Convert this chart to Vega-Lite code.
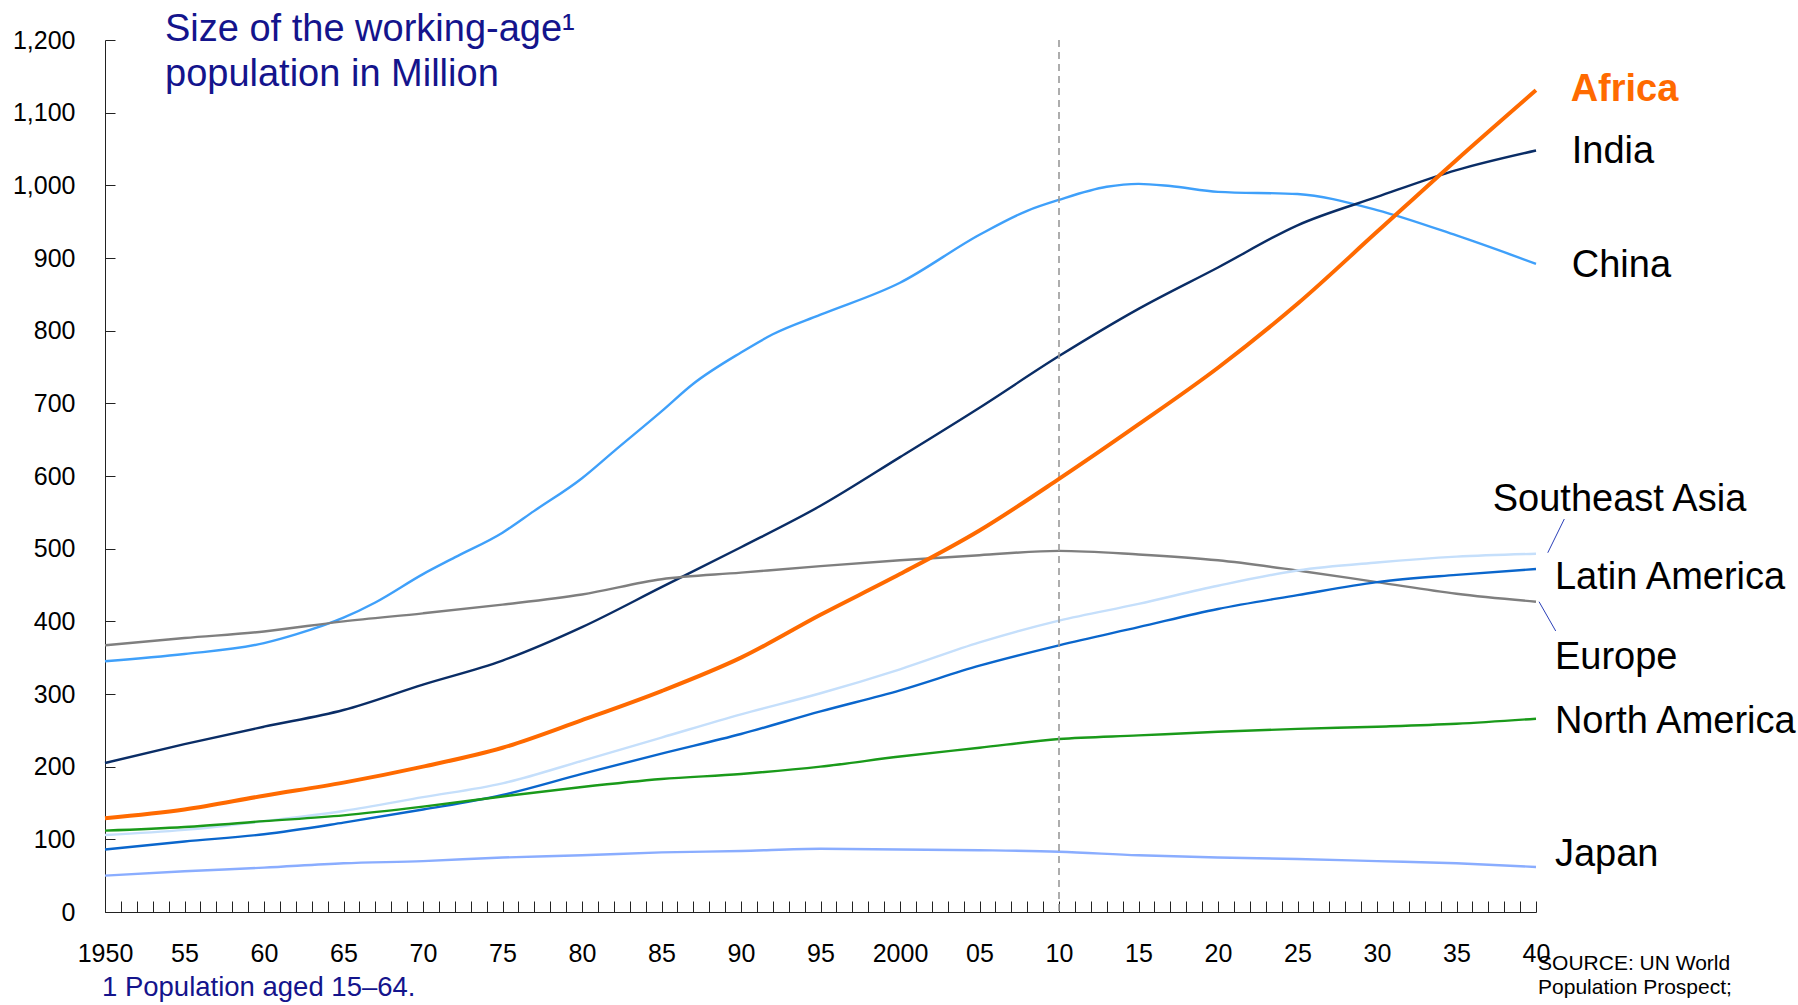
{
  "$schema": "https://vega.github.io/schema/vega-lite/v6.json",
  "width": 1431,
  "height": 872,
  "autosize": {"type": "none"},
  "padding": {"left": 105, "top": 40, "right": 262, "bottom": 93},
  "background": "white",
  "config": {
    "view": {"stroke": null},
    "font": "Liberation Sans",
    "axis": {"grid": false, "labelFont": "Liberation Sans", "labelColor": "#000000", "domainColor": "#222222", "tickColor": "#222222", "domainWidth": 1, "tickWidth": 1, "titlePadding": 0}
  },
  "title": {
    "text": ["Size of the working-age¹", "population in Million"],
    "anchor": "start",
    "frame": "group",
    "orient": "top",
    "dx": 60,
    "dy": 66,
    "offset": 0,
    "fontSize": 38,
    "fontWeight": "normal",
    "font": "Liberation Sans",
    "color": "#14148c",
    "lineHeight": 45
  },
  "datasets": {
    "series": [
      {"region": "China", "year": 1950, "value": 345},
      {"region": "China", "year": 1955, "value": 355},
      {"region": "China", "year": 1960, "value": 370},
      {"region": "China", "year": 1962, "value": 382},
      {"region": "China", "year": 1965, "value": 405},
      {"region": "China", "year": 1967, "value": 426},
      {"region": "China", "year": 1970, "value": 465},
      {"region": "China", "year": 1972, "value": 488},
      {"region": "China", "year": 1975, "value": 522},
      {"region": "China", "year": 1977, "value": 552},
      {"region": "China", "year": 1980, "value": 597},
      {"region": "China", "year": 1982, "value": 634},
      {"region": "China", "year": 1985, "value": 689},
      {"region": "China", "year": 1987, "value": 727},
      {"region": "China", "year": 1990, "value": 770},
      {"region": "China", "year": 1992, "value": 795},
      {"region": "China", "year": 1995, "value": 822},
      {"region": "China", "year": 2000, "value": 866},
      {"region": "China", "year": 2005, "value": 932},
      {"region": "China", "year": 2008, "value": 965},
      {"region": "China", "year": 2010, "value": 980},
      {"region": "China", "year": 2013, "value": 998},
      {"region": "China", "year": 2015, "value": 1002},
      {"region": "China", "year": 2017, "value": 999},
      {"region": "China", "year": 2020, "value": 991},
      {"region": "China", "year": 2025, "value": 988},
      {"region": "China", "year": 2030, "value": 966},
      {"region": "China", "year": 2035, "value": 931},
      {"region": "China", "year": 2040, "value": 892},
      {"region": "India", "year": 1950, "value": 205},
      {"region": "India", "year": 1955, "value": 231},
      {"region": "India", "year": 1960, "value": 255},
      {"region": "India", "year": 1965, "value": 278},
      {"region": "India", "year": 1970, "value": 313},
      {"region": "India", "year": 1975, "value": 346},
      {"region": "India", "year": 1980, "value": 392},
      {"region": "India", "year": 1985, "value": 447},
      {"region": "India", "year": 1990, "value": 502},
      {"region": "India", "year": 1995, "value": 559},
      {"region": "India", "year": 2000, "value": 626},
      {"region": "India", "year": 2005, "value": 694},
      {"region": "India", "year": 2010, "value": 765},
      {"region": "India", "year": 2015, "value": 830},
      {"region": "India", "year": 2020, "value": 887},
      {"region": "India", "year": 2025, "value": 945},
      {"region": "India", "year": 2030, "value": 984},
      {"region": "India", "year": 2035, "value": 1021},
      {"region": "India", "year": 2040, "value": 1048},
      {"region": "Europe", "year": 1950, "value": 367},
      {"region": "Europe", "year": 1955, "value": 377},
      {"region": "Europe", "year": 1960, "value": 386},
      {"region": "Europe", "year": 1965, "value": 400},
      {"region": "Europe", "year": 1970, "value": 411},
      {"region": "Europe", "year": 1975, "value": 423},
      {"region": "Europe", "year": 1980, "value": 437},
      {"region": "Europe", "year": 1985, "value": 458},
      {"region": "Europe", "year": 1990, "value": 467},
      {"region": "Europe", "year": 1995, "value": 476},
      {"region": "Europe", "year": 2000, "value": 484},
      {"region": "Europe", "year": 2005, "value": 491},
      {"region": "Europe", "year": 2010, "value": 497},
      {"region": "Europe", "year": 2015, "value": 492},
      {"region": "Europe", "year": 2020, "value": 484},
      {"region": "Europe", "year": 2025, "value": 470},
      {"region": "Europe", "year": 2030, "value": 454},
      {"region": "Europe", "year": 2035, "value": 438},
      {"region": "Europe", "year": 2040, "value": 427},
      {"region": "Southeast Asia", "year": 1950, "value": 106},
      {"region": "Southeast Asia", "year": 1955, "value": 113},
      {"region": "Southeast Asia", "year": 1960, "value": 125},
      {"region": "Southeast Asia", "year": 1965, "value": 139},
      {"region": "Southeast Asia", "year": 1970, "value": 158},
      {"region": "Southeast Asia", "year": 1975, "value": 177},
      {"region": "Southeast Asia", "year": 1980, "value": 208},
      {"region": "Southeast Asia", "year": 1985, "value": 240},
      {"region": "Southeast Asia", "year": 1990, "value": 272},
      {"region": "Southeast Asia", "year": 1995, "value": 301},
      {"region": "Southeast Asia", "year": 2000, "value": 334},
      {"region": "Southeast Asia", "year": 2005, "value": 371},
      {"region": "Southeast Asia", "year": 2010, "value": 401},
      {"region": "Southeast Asia", "year": 2015, "value": 424},
      {"region": "Southeast Asia", "year": 2020, "value": 449},
      {"region": "Southeast Asia", "year": 2025, "value": 470},
      {"region": "Southeast Asia", "year": 2030, "value": 481},
      {"region": "Southeast Asia", "year": 2035, "value": 489},
      {"region": "Southeast Asia", "year": 2040, "value": 493},
      {"region": "Latin America", "year": 1950, "value": 86},
      {"region": "Latin America", "year": 1955, "value": 97},
      {"region": "Latin America", "year": 1960, "value": 107},
      {"region": "Latin America", "year": 1965, "value": 123},
      {"region": "Latin America", "year": 1970, "value": 141},
      {"region": "Latin America", "year": 1975, "value": 161},
      {"region": "Latin America", "year": 1980, "value": 190},
      {"region": "Latin America", "year": 1985, "value": 218},
      {"region": "Latin America", "year": 1990, "value": 245},
      {"region": "Latin America", "year": 1995, "value": 276},
      {"region": "Latin America", "year": 2000, "value": 305},
      {"region": "Latin America", "year": 2005, "value": 339},
      {"region": "Latin America", "year": 2010, "value": 367},
      {"region": "Latin America", "year": 2015, "value": 392},
      {"region": "Latin America", "year": 2020, "value": 417},
      {"region": "Latin America", "year": 2025, "value": 436},
      {"region": "Latin America", "year": 2030, "value": 454},
      {"region": "Latin America", "year": 2035, "value": 464},
      {"region": "Latin America", "year": 2040, "value": 472},
      {"region": "North America", "year": 1950, "value": 112},
      {"region": "North America", "year": 1955, "value": 117},
      {"region": "North America", "year": 1960, "value": 125},
      {"region": "North America", "year": 1965, "value": 133},
      {"region": "North America", "year": 1970, "value": 145},
      {"region": "North America", "year": 1975, "value": 159},
      {"region": "North America", "year": 1980, "value": 172},
      {"region": "North America", "year": 1985, "value": 183},
      {"region": "North America", "year": 1990, "value": 190},
      {"region": "North America", "year": 1995, "value": 200},
      {"region": "North America", "year": 2000, "value": 214},
      {"region": "North America", "year": 2005, "value": 226},
      {"region": "North America", "year": 2010, "value": 238},
      {"region": "North America", "year": 2015, "value": 243},
      {"region": "North America", "year": 2020, "value": 248},
      {"region": "North America", "year": 2025, "value": 252},
      {"region": "North America", "year": 2030, "value": 255},
      {"region": "North America", "year": 2035, "value": 259},
      {"region": "North America", "year": 2040, "value": 266},
      {"region": "Japan", "year": 1950, "value": 50},
      {"region": "Japan", "year": 1955, "value": 56},
      {"region": "Japan", "year": 1960, "value": 61},
      {"region": "Japan", "year": 1965, "value": 67},
      {"region": "Japan", "year": 1970, "value": 70},
      {"region": "Japan", "year": 1975, "value": 75},
      {"region": "Japan", "year": 1980, "value": 78},
      {"region": "Japan", "year": 1985, "value": 82},
      {"region": "Japan", "year": 1990, "value": 84},
      {"region": "Japan", "year": 1995, "value": 87},
      {"region": "Japan", "year": 2000, "value": 86},
      {"region": "Japan", "year": 2005, "value": 85},
      {"region": "Japan", "year": 2010, "value": 83},
      {"region": "Japan", "year": 2015, "value": 78},
      {"region": "Japan", "year": 2020, "value": 75},
      {"region": "Japan", "year": 2025, "value": 73},
      {"region": "Japan", "year": 2030, "value": 70},
      {"region": "Japan", "year": 2035, "value": 67},
      {"region": "Japan", "year": 2040, "value": 62},
      {"region": "Africa", "year": 1950, "value": 129},
      {"region": "Africa", "year": 1955, "value": 141},
      {"region": "Africa", "year": 1960, "value": 160},
      {"region": "Africa", "year": 1965, "value": 178},
      {"region": "Africa", "year": 1970, "value": 200},
      {"region": "Africa", "year": 1975, "value": 226},
      {"region": "Africa", "year": 1980, "value": 264},
      {"region": "Africa", "year": 1985, "value": 304},
      {"region": "Africa", "year": 1990, "value": 350},
      {"region": "Africa", "year": 1995, "value": 409},
      {"region": "Africa", "year": 2000, "value": 465},
      {"region": "Africa", "year": 2005, "value": 525},
      {"region": "Africa", "year": 2010, "value": 596},
      {"region": "Africa", "year": 2015, "value": 671},
      {"region": "Africa", "year": 2020, "value": 749},
      {"region": "Africa", "year": 2025, "value": 837},
      {"region": "Africa", "year": 2030, "value": 936},
      {"region": "Africa", "year": 2035, "value": 1035},
      {"region": "Africa", "year": 2040, "value": 1131}
    ],
    "labels": [
      {"region": "Africa", "year": 2042.18, "value": 1116.5},
      {"region": "India", "year": 2042.25, "value": 1030.3},
      {"region": "China", "year": 2042.25, "value": 873.4},
      {"region": "Southeast Asia", "year": 2037.28, "value": 552.2},
      {"region": "Latin America", "year": 2041.19, "value": 444.1},
      {"region": "Europe", "year": 2041.19, "value": 334},
      {"region": "North America", "year": 2041.19, "value": 246.7},
      {"region": "Japan", "year": 2041.19, "value": 63.3}
    ],
    "leaders": [
      {"region": "Southeast Asia", "year": 2040.74, "year2": 2041.78, "value": 494.4, "value2": 540.8},
      {"region": "Europe", "year": 2040.19, "year2": 2041.24, "value": 427, "value2": 386.7}
    ],
    "notes": [
      {"kind": "footnote", "note": "1 Population aged 15–64.", "year": 1949.81, "value": -115.6},
      {"kind": "source", "note": "SOURCE: UN World\nPopulation Prospect;", "year": 2040.13, "value": -79.8}
    ]
  },
  "layer": [
    {
      "data": {"name": "series"},
      "transform": [{"filter": "datum.region != 'Africa'"}],
      "mark": {"type": "line", "strokeWidth": 2.4, "interpolate": "monotone"},
      "encoding": {
        "x": {
          "field": "year", "type": "quantitative",
          "scale": {"domain": [1950, 2040], "nice": false, "zero": false},
          "axis": {
            "title": null,
            "values": [1950,1951,1952,1953,1954,1955,1956,1957,1958,1959,1960,1961,1962,1963,1964,1965,1966,1967,1968,1969,1970,1971,1972,1973,1974,1975,1976,1977,1978,1979,1980,1981,1982,1983,1984,1985,1986,1987,1988,1989,1990,1991,1992,1993,1994,1995,1996,1997,1998,1999,2000,2001,2002,2003,2004,2005,2006,2007,2008,2009,2010,2011,2012,2013,2014,2015,2016,2017,2018,2019,2020,2021,2022,2023,2024,2025,2026,2027,2028,2029,2030,2031,2032,2033,2034,2035,2036,2037,2038,2039,2040],
            "tickCount": 200,
            "format": "d",
            "labelExpr": "datum.value % 5 == 0 ? ((datum.value == 1950 || datum.value == 2000) ? datum.label : substring(datum.label, 2, 4)) : ''",
            "labelOverlap": false,
            "labelFlush": false,
            "labelBound": false,
            "labelFontSize": 25,
            "labelPadding": 40,
            "tickSize": -11
          }
        },
        "y": {
          "field": "value", "type": "quantitative",
          "scale": {"domain": [0, 1200], "nice": false},
          "axis": {
            "title": null,
            "values": [0,100,200,300,400,500,600,700,800,900,1000,1100,1200],
            "tickCount": 50,
            "format": ",d",
            "labelFontSize": 25,
            "labelPadding": 40,
            "tickSize": -10
          }
        },
        "color": {
          "field": "region", "type": "nominal", "legend": null,
          "scale": {
            "domain": ["Africa", "India", "China", "Southeast Asia", "Latin America", "Europe", "North America", "Japan"],
            "range": ["#ff6a00", "#0a2d66", "#3fa0fa", "#c5dffb", "#0a66cc", "#7f7f7f", "#1a9a1a", "#8aadff"]
          }
        }
      }
    },
    {
      "data": {"values": [{"year": 2010}]},
      "mark": {"type": "rule", "color": "#999999", "strokeWidth": 1.6, "strokeDash": [7, 5]},
      "encoding": {"x": {"field": "year", "type": "quantitative"}}
    },
    {
      "data": {"name": "series"},
      "transform": [{"filter": "datum.region == 'Africa'"}],
      "mark": {"type": "line", "strokeWidth": 4, "interpolate": "monotone", "color": "#ff6a00"},
      "encoding": {
        "x": {"field": "year", "type": "quantitative"},
        "y": {"field": "value", "type": "quantitative"}
      }
    },
    {
      "data": {"name": "leaders"},
      "mark": {"type": "rule", "color": "#2a3fb8", "strokeWidth": 1},
      "encoding": {
        "x": {"field": "year", "type": "quantitative"},
        "x2": {"field": "year2"},
        "y": {"field": "value", "type": "quantitative"},
        "y2": {"field": "value2"}
      }
    },
    {
      "data": {"name": "labels"},
      "transform": [{"filter": "datum.region != 'Africa'"}],
      "mark": {"type": "text", "align": "left", "baseline": "alphabetic", "fontSize": 38, "font": "Liberation Sans", "color": "#000000"},
      "encoding": {
        "x": {"field": "year", "type": "quantitative"},
        "y": {"field": "value", "type": "quantitative"},
        "text": {"field": "region"}
      }
    },
    {
      "data": {"name": "labels"},
      "transform": [{"filter": "datum.region == 'Africa'"}],
      "mark": {"type": "text", "align": "left", "baseline": "alphabetic", "fontSize": 38, "fontWeight": "bold", "font": "Liberation Sans", "color": "#ff6a00"},
      "encoding": {
        "x": {"field": "year", "type": "quantitative"},
        "y": {"field": "value", "type": "quantitative"},
        "text": {"field": "region"}
      }
    },
    {
      "data": {"name": "notes"},
      "transform": [{"filter": "datum.kind == 'footnote'"}],
      "mark": {"type": "text", "align": "left", "baseline": "alphabetic", "fontSize": 27.5, "font": "Liberation Sans", "color": "#14148c"},
      "encoding": {
        "x": {"field": "year", "type": "quantitative"},
        "y": {"field": "value", "type": "quantitative"},
        "text": {"field": "note"}
      }
    },
    {
      "data": {"name": "notes"},
      "transform": [{"filter": "datum.kind == 'source'"}],
      "mark": {"type": "text", "align": "left", "baseline": "alphabetic", "fontSize": 21, "font": "Liberation Sans", "color": "#000000", "lineBreak": "\n", "lineHeight": 24},
      "encoding": {
        "x": {"field": "year", "type": "quantitative"},
        "y": {"field": "value", "type": "quantitative"},
        "text": {"field": "note"}
      }
    }
  ]
}
